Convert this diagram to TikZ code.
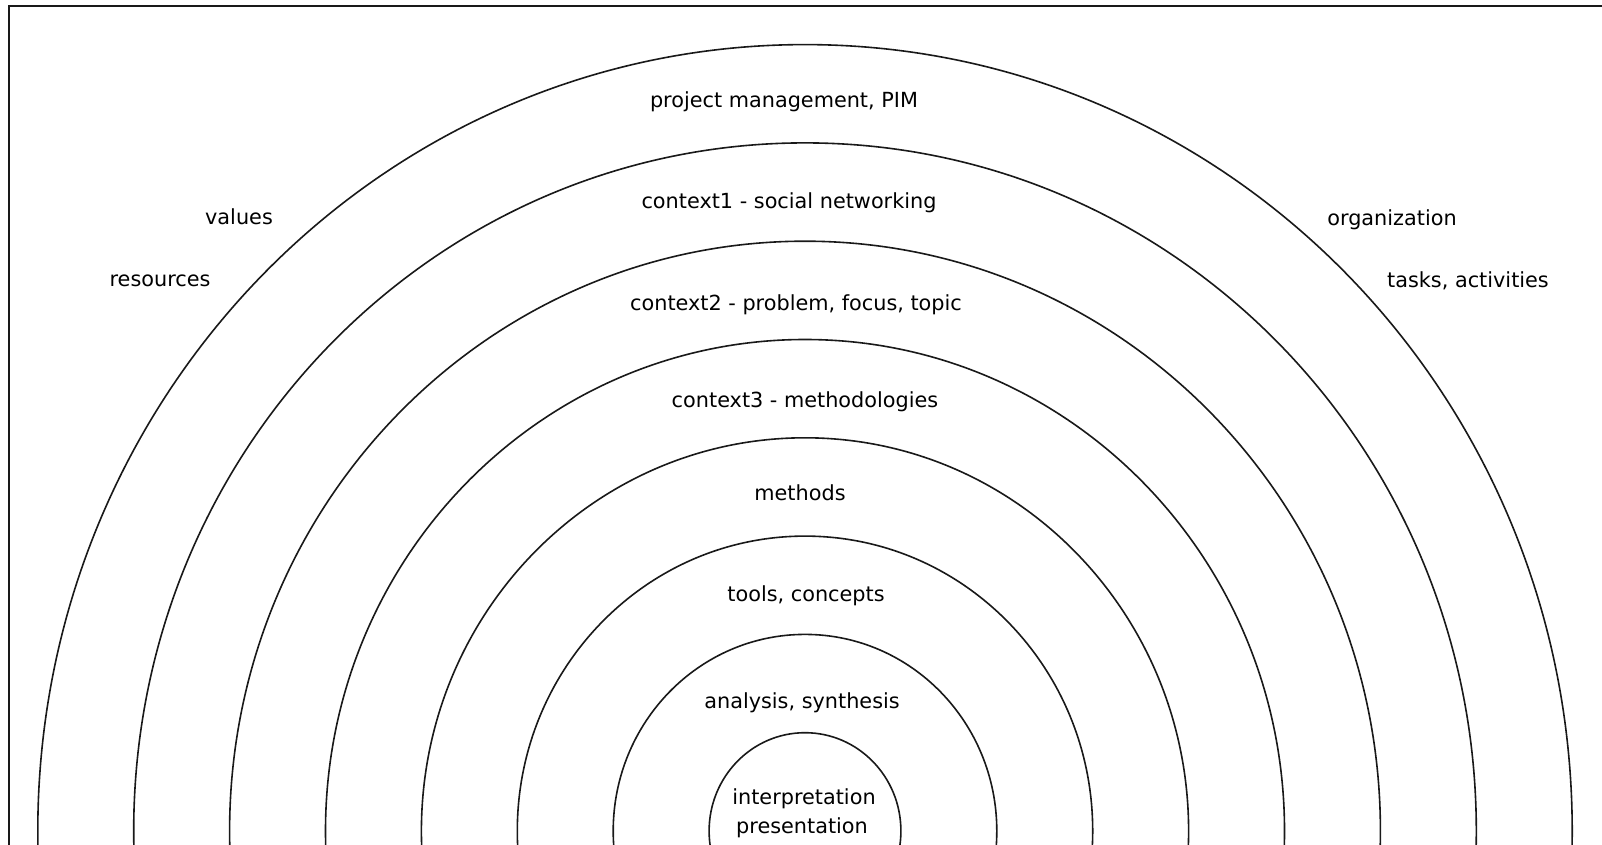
\documentclass[tikz,border=0pt]{standalone}
\usepackage{fontspec}
\setmainfont{DejaVu Sans}
\begin{document}
\begin{tikzpicture}[x=1pt,y=-1pt,
  ring/.style={draw=black!90, line width=1.6pt},
  frame/.style={draw=black!90, line width=2.2pt},
  lbl/.style={font=\fontsize{20.8}{25}\selectfont, inner sep=0pt, text=black}]
\fill[white] (0,0) rectangle (1602,845);
\useasboundingbox (0,0) rectangle (1602,845);
\begin{scope}
\clip (0,0) rectangle (1602,845);
\coordinate (c) at (805,831);
\foreach \i in {1,...,8} \draw[ring] (c) ellipse [x radius={\i*95.9pt}, y radius={\i*98.3pt}];
\coordinate (fbl) at (9,846);
\coordinate (ftl) at (9,6);
\coordinate (ftr) at (1603,6);
\draw[frame] (fbl) -- (ftl) -- (ftr);
\end{scope}
\node[lbl] (t1) at (784,102) {project management, PIM};
\node[lbl] (t2) at (789,203) {context1 - social networking};
\node[lbl] (t3) at (796,305) {context2 - problem, focus, topic};
\node[lbl] (t4) at (805,402) {context3 - methodologies};
\node[lbl] (t5) at (800,493) {methods};
\node[lbl] (t6) at (806,596) {tools, concepts};
\node[lbl] (t7) at (802,703) {analysis, synthesis};
\node[lbl] (t8) at (804,799) {interpretation};
\node[lbl] (t9) at (802,828) {presentation};
\node[lbl] (v) at (239,217) {values};
\node[lbl] (r) at (160,281) {resources};
\node[lbl] (o) at (1392,220) {organization};
\node[lbl] (ta) at (1468,281) {tasks, activities};
\end{tikzpicture}
\end{document}
